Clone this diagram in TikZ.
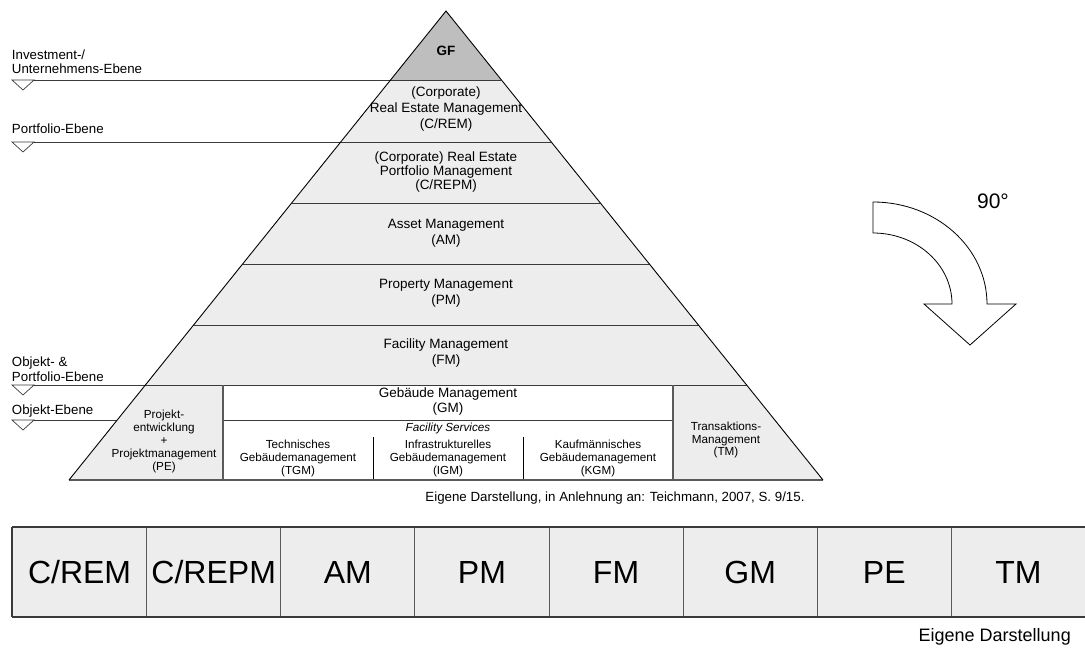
\documentclass[tikz,border=0pt]{standalone}
\usepackage{fontspec}
\setmainfont{Liberation Sans}
\usetikzlibrary{calc}

\definecolor{lightfill}{HTML}{EDEDED}
\definecolor{gffill}{HTML}{BEBEBE}
\definecolor{rule}{HTML}{3A3A3A}
\definecolor{divider}{HTML}{5A5A5A}

\newcommand{\fsbig}{\fontsize{13.5}{16}\selectfont}
\newcommand{\fssmall}{\fontsize{11.7}{13}\selectfont}

\tikzset{
  txt/.style={inner sep=0pt, outer sep=0pt, align=center, font=\fsbig},
  smalltxt/.style={inner sep=0pt, outer sep=0pt, align=center, font=\fssmall},
  leveltxt/.style={inner sep=0pt, outer sep=0pt, align=left, anchor=west, font=\fontsize{13.3}{16}\selectfont},
  levelrule/.style={draw=rule, line width=1pt},
  levelmark/.style={draw=rule, line width=0.7pt, fill=white},
  bandrule/.style={draw=rule, line width=1pt},
  colrule/.style={draw=divider, line width=1.6pt},
  thinrule/.style={draw=black, line width=0.9pt},
  cellbox/.style={draw=divider, line width=1pt, fill=lightfill, minimum width=134.125pt,
    minimum height=90pt, inner sep=0pt, anchor=west, font=\fontsize{32}{36}\selectfont},
}

\begin{document}
\begin{tikzpicture}[x=1pt,y=-1pt]
\useasboundingbox (0,0) rectangle (1085,653);

% corners of the pyramid and the points where each band boundary meets its sides
\coordinate (apex) at (446,11);
\coordinate (bl)   at (69,480);
\coordinate (br)   at (823,480);
\coordinate (l80)  at (390.53,80);  \coordinate (r80)  at (501.47,80);
\coordinate (l142) at (340.70,142); \coordinate (r142) at (551.30,142);
\coordinate (l203) at (291.66,203); \coordinate (r203) at (600.34,203);
\coordinate (l264) at (242.63,264); \coordinate (r264) at (649.37,264);
\coordinate (l325) at (193.59,325); \coordinate (r325) at (698.41,325);
\coordinate (l385) at (145.36,385); \coordinate (r385) at (746.64,385);
\coordinate (l420) at (117.23,420);

% fills
\fill[lightfill] (apex) -- (bl) -- (br) -- cycle;
\fill[gffill] (apex) -- (l80) -- (r80) -- cycle;
\fill[white] (223,385) rectangle (673,480);

% level rules on the left, running into the pyramid
\foreach \y/\e in {80/l80, 142/l142, 385/l385, 420/l420}{
  \coordinate (s\y) at (12,\y);
  \draw[levelrule] (s\y) -- (\e);
  \draw[levelmark] (12,\y) -- (34,\y) -- (23,\y+10) -- cycle;
}

% band boundaries inside the pyramid
\draw[bandrule] (l80) -- (r80);
\draw[bandrule] (l142) -- (r142);
\draw[bandrule] (l203) -- (r203);
\draw[bandrule] (l264) -- (r264);
\draw[bandrule] (l325) -- (r325);
\draw[bandrule] (l385) -- (r385);

% Gebäude Management block
\coordinate (gmL) at (223,420);
\coordinate (gmR) at (673,420);
\draw[bandrule] (gmL) -- (gmR);
\coordinate (peTop) at (223,385); \coordinate (peBot) at (223,480);
\coordinate (tmTop) at (673,385); \coordinate (tmBot) at (673,480);
\draw[colrule] (peTop) -- (peBot);
\draw[colrule] (tmTop) -- (tmBot);
\coordinate (d1t) at (373,437); \coordinate (d1b) at (373,480);
\coordinate (d2t) at (523,437); \coordinate (d2b) at (523,480);
\draw[thinrule] (d1t) -- (d1b);
\draw[thinrule] (d2t) -- (d2b);

% base and sides
\draw[draw=divider, line width=2pt] (bl) -- (br);
\draw[thinrule, line join=miter] (bl) -- (apex) -- (br);

% texts in the pyramid
\node[txt, font=\fsbig\bfseries] (gf) at (446,51) {GF};
\node[txt, font=\fontsize{13.5}{16}\selectfont] (crem) at (446,109.5) {(Corporate)\\Real Estate Management\\(C/REM)};
\node[txt, font=\fontsize{13.5}{14}\selectfont] (crepm) at (446,172) {(Corporate) Real Estate\\Portfolio Management\\(C/REPM)};
\node[txt] (am) at (446,233) {Asset Management\\(AM)};
\node[txt] (pm) at (446,293) {Property Management\\(PM)};
\node[txt] (fm) at (446,353) {Facility Management\\(FM)};
\node[txt, font=\fontsize{13.5}{15}\selectfont] (gm) at (448,402) {Gebäude Management\\(GM)};
\node[smalltxt, font=\fssmall\itshape] (fs) at (448,428) {Facility Services};
\node[smalltxt] (tgm) at (298,458) {Technisches\\Gebäudemanagement\\(TGM)};
\node[smalltxt] (igm) at (448,458) {Infrastrukturelles\\Gebäudemanagement\\(IGM)};
\node[smalltxt] (kgm) at (598,458) {Kaufmännisches\\Gebäudemanagement\\(KGM)};
\node[smalltxt] (pe) at (164,441) {Projekt-\\entwicklung\\+\\Projektmanagement\\(PE)};
\node[smalltxt, font=\fontsize{11.7}{12.5}\selectfont] (tm) at (726,440) {Transaktions-\\Management\\(TM)};

% level labels
\node[leveltxt, font=\fontsize{13.3}{13.5}\selectfont] (lvl1) at (12,61.5) {Investment-/\\Unternehmens-Ebene};
\node[leveltxt] (lvl2) at (12,129) {Portfolio-Ebene};
\node[leveltxt, font=\fontsize{13.3}{14.5}\selectfont] (lvl3) at (12,369) {Objekt- \&\\Portfolio-Ebene};
\node[leveltxt] (lvl4) at (12,411.5) {Objekt-Ebene};

% source line under the pyramid
\node[txt, font=\fontsize{13.3}{15}\selectfont] (src1) at (615,498) {Eigene Darstellung, in Anlehnung an: Teichmann, 2007, S. 9/15.};

% rotation arrow
\draw[black, line width=0.8pt, fill=white]
  (873,202) arc[start angle=90, end angle=0, x radius=114pt, y radius=102pt]
  -- (1016,304) -- (970,345) -- (924,304) -- (952,304)
  arc[start angle=0, end angle=90, x radius=79pt, y radius=71pt] -- cycle;
\node[txt, font=\fontsize{21}{24}\selectfont] (deg) at (993,201) {90°};

% strip of abbreviations
\foreach \t [count=\i from 0] in {C/REM, C/REPM, AM, PM, FM, GM, PE, TM}{
  \node[cellbox] (cell\i) at (12+134.125*\i,572) {\t};
}
\draw[draw=rule, line width=1.3pt] (12,527) -- (1085,527);
\draw[draw=rule, line width=2pt] (12,617) -- (1085,617);
\draw[draw=rule, line width=1.3pt] (12,527) -- (12,617);

\node[inner sep=0pt, anchor=base east, font=\fontsize{18}{20}\selectfont] (src2) at (1071,641) {Eigene Darstellung};
\end{tikzpicture}
\end{document}
